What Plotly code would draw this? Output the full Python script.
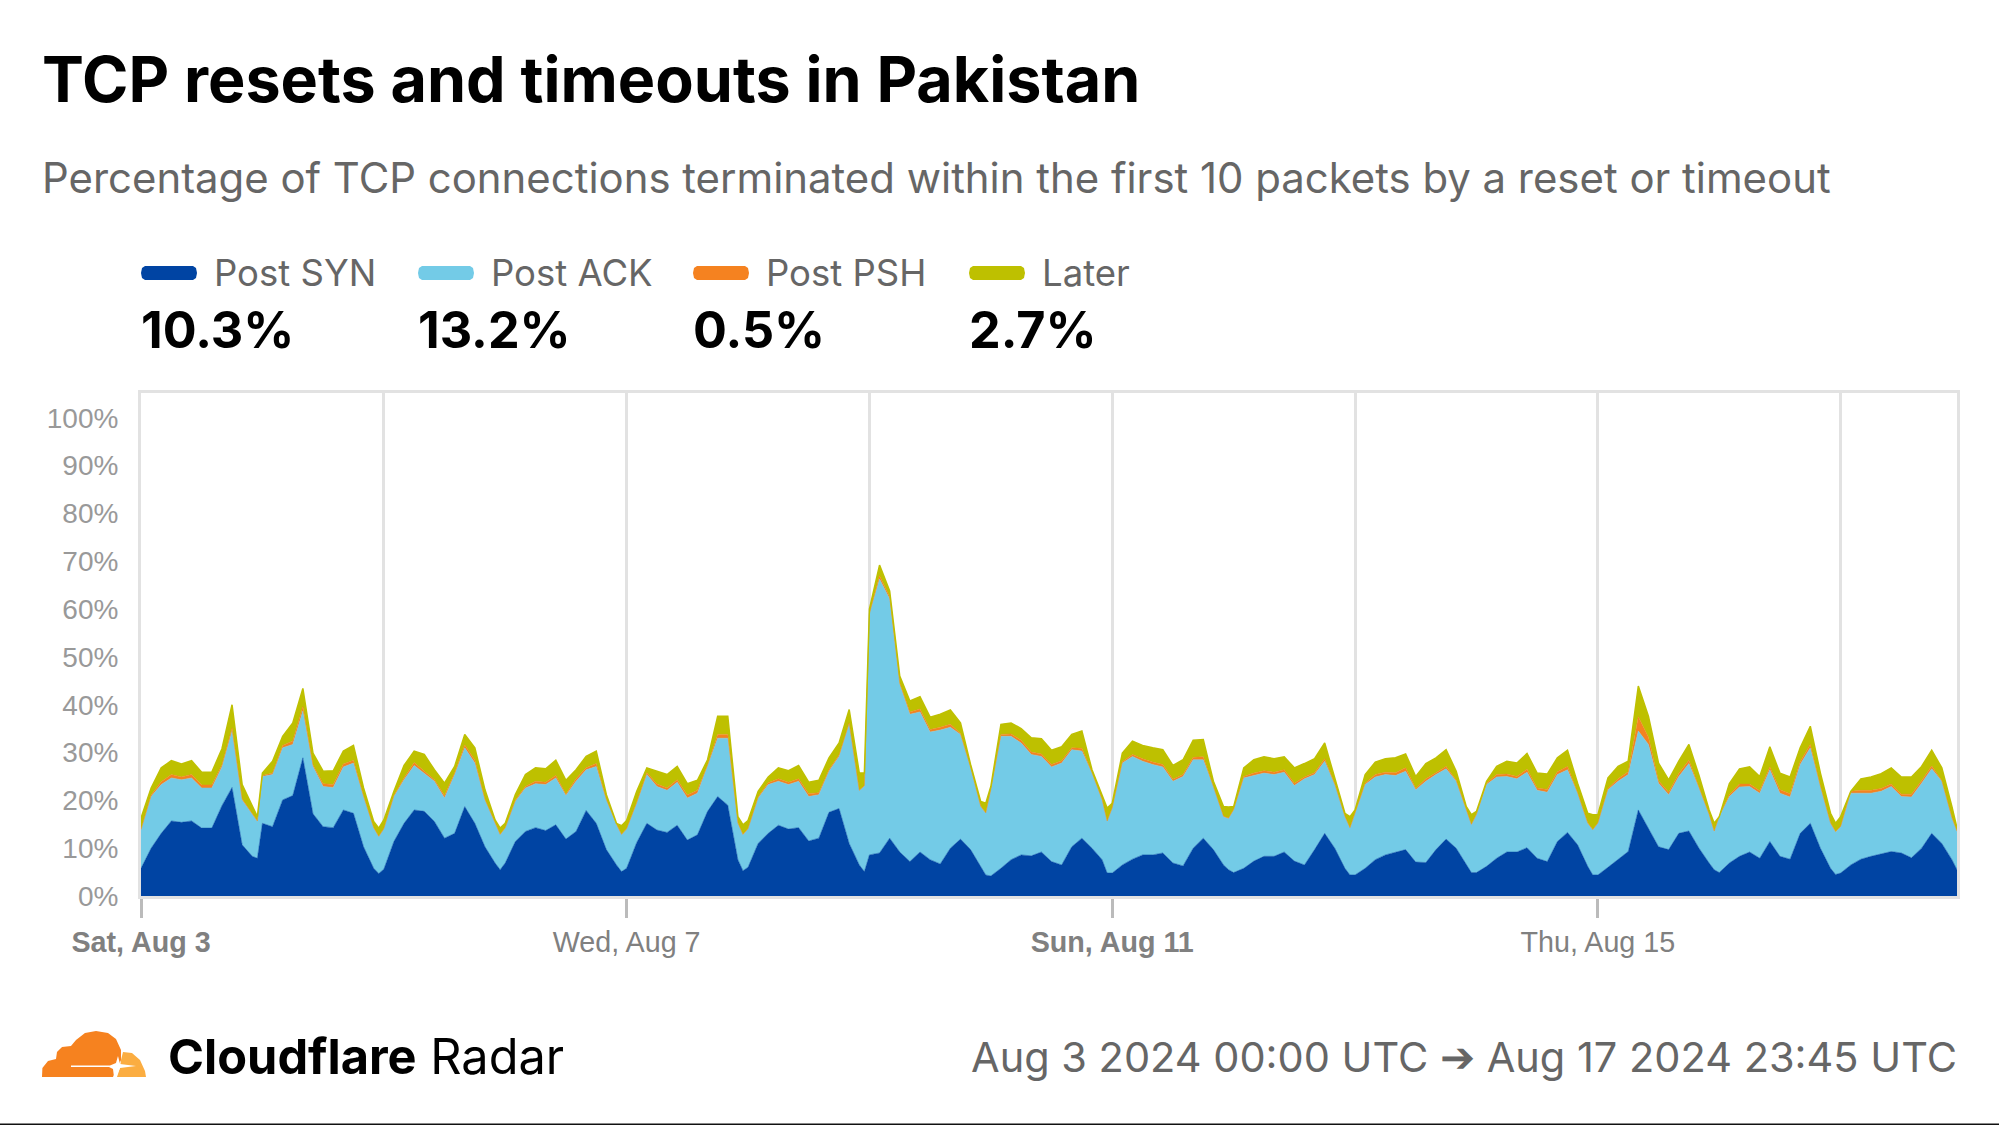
import plotly.graph_objects as go

W, H = 1999, 1125
LEFT, RIGHT, TOP, BOTTOM = 141, 1957, 393, 896

days = ["2024-08-%02d" % d for d in range(3, 18)]
day_hours = [0, 2, 4, 6, 8, 10, 12, 14, 16, 18, 20, 22, 23]

# one row per day, values in %
post_syn = [
    5.8, 10, 13.1, 15.7, 15.4, 15.7, 14.2, 14.2, 18.9, 22.7, 10.7, 8.3, 7.9,
    15.2, 14.5, 20.1, 21, 28.9, 17.2, 14.5, 14.3, 18, 17.3, 10.3, 5.8, 4.7,
    5.6, 11.4, 15.2, 18, 17.7, 15.6, 12.1, 13.1, 18.7, 15.2, 10.3, 6.9, 5.5,
    6.9, 11.4, 13.5, 14.3, 13.7, 14.9, 11.9, 13.5, 17.9, 15.2, 9.7, 6.5, 5.1,
    5.8, 11.2, 15.2, 13.8, 13.3, 14.8, 11.7, 12.8, 17.7, 20.8, 19, 7.6, 5.3,
    6, 11, 13.1, 14.8, 14, 14.3, 11.5, 12.1, 17.5, 18.3, 11, 6.5, 5.1,
    8.6, 9, 12.1, 9.2, 7.2, 9.2, 7.6, 6.7, 10, 11.9, 9.7, 6.2, 4.4,
    4.2, 5.8, 7.6, 8.6, 8.4, 9.2, 7.2, 6.5, 10.3, 12.1, 10, 7.6, 4.8,
    4.8, 6.5, 7.7, 8.6, 8.6, 9, 6.9, 6.3, 10, 12.1, 9.7, 6.5, 5.5,
    4.9, 5.8, 7.3, 8.3, 8.3, 9.2, 7.3, 6.5, 9.7, 13.1, 10, 5.8, 4.4,
    4.4, 5.8, 7.6, 8.6, 9.1, 9.7, 7.1, 7, 9.7, 11.9, 10, 6.5, 4.9,
    4.9, 6.2, 7.9, 9.2, 9.2, 10.1, 7.9, 7.2, 11.4, 13.3, 10.7, 6.2, 4.4,
    4.4, 6, 7.7, 9.3, 18, 14.2, 10.3, 9.7, 13.1, 13.6, 10, 6.9, 5.5,
    4.9, 6.9, 8.3, 9.2, 7.9, 11.4, 8.3, 7.7, 13.1, 15.2, 10, 5.8, 4.5,
    4.8, 6.5, 7.7, 8.3, 8.8, 9.3, 9, 8, 10, 13.1, 11, 7.6, 5.5,
]
# upper edge of the light blue band
ack_edge = [
    13.8, 20.8, 23.3, 24.7, 24.3, 24.7, 22.6, 22.6, 27, 34.5, 20.1, 17, 15.6,
    25, 25.4, 31, 31.7, 38.7, 27.1, 22.9, 22.7, 27, 27.8, 20.8, 14.2, 12.4,
    14, 20.8, 24.3, 27.3, 25.7, 24, 20.5, 25.4, 31, 27.8, 20.1, 15.2, 12.8,
    14.2, 19.8, 22.6, 23.5, 23.3, 24.7, 21, 24, 26.4, 27.1, 20.1, 14.9, 12.8,
    14, 19.4, 25.4, 22.9, 22.1, 23.8, 20.5, 21.5, 27.1, 33, 33, 15.2, 12.8,
    14, 20.5, 23.3, 24, 23.3, 24, 20.8, 21.2, 26.1, 29.2, 36, 22, 23,
    59, 66.3, 62.1, 44.3, 38, 38.5, 34.3, 34.7, 35.3, 33.8, 26.8, 18.7, 17.3,
    22.2, 33.4, 33.4, 32, 29.6, 29.2, 27, 27.8, 30.6, 30.3, 25.7, 20.1, 15.6,
    18.4, 27.8, 29.2, 28.2, 27.5, 27, 24, 25, 28.5, 28.5, 22.9, 16.6, 16.2,
    18, 24.7, 25.2, 25.7, 25.4, 25.9, 23.1, 24.5, 25.4, 28.2, 23.3, 16.6, 14.2,
    17.3, 23.3, 24.9, 25.4, 25.2, 26.1, 22.2, 24, 25.4, 26.6, 24, 18, 14.9,
    17, 23.3, 24.9, 25, 24.5, 25.9, 22.1, 21.7, 25.4, 26.4, 21.5, 15.2, 13.8,
    15.2, 22.2, 24, 25.4, 34.5, 31.7, 23.6, 21.2, 25, 27.7, 22.6, 17, 13.5,
    16.6, 20.8, 22.8, 22.9, 21.5, 26.4, 21.5, 20.7, 27.5, 31, 22.9, 15.2, 13.4,
    14.5, 21.5, 21.5, 21.5, 21.9, 22.9, 20.8, 20.7, 23.6, 26.6, 24, 16.3, 13.5,
]
post_psh = [
    .1, .3, .6, .7, .6, .7, .6, .6, .4, .6, .2, .1, .1,
    .2, .3, .5, .7, .9, .3, .6, .6, .6, .6, .1, .1, .1,
    .1, .2, .4, .6, .5, .3, .5, .3, .6, .6, .1, .1, .1,
    .1, .2, .3, .5, .5, .5, .3, .5, .4, .6, .1, .1, .1,
    .1, .2, .4, .5, .5, .5, .6, .6, .3, .8, .8, .1, .1,
    .1, .2, .4, .5, .5, .5, .6, .4, .3, .3, .2, .1, .1,
    .1, .7, .5, .2, .5, .6, .5, .6, .6, .2, .1, .1, .1,
    .1, .4, .5, .6, .5, .5, .5, .5, .4, .6, .1, .1, .1,
    .1, .3, .4, .5, .5, .5, .4, .4, .5, .6, .1, .1, .1,
    .1, .3, .5, .5, .5, .5, .5, .4, .4, .5, .1, .1, .1,
    .1, .3, .5, .5, .6, .7, .3, .5, .4, .5, .2, .1, .1,
    .1, .3, .5, .5, .5, .6, .5, .6, .6, .7, .1, .1, .1,
    .1, .3, .5, .6, 3, 1.5, .5, .5, .6, .7, .2, .1, .1,
    .1, .4, .6, .5, .5, .6, .7, .7, .6, .7, .1, .1, .1,
    .1, .4, .6, .6, .6, .5, .5, .6, .5, .6, .1, .1, .1,
]
# outer edge of the whole stack
top_edge = [
    16.3, 22.6, 26.8, 28.3, 27.6, 28.3, 25.9, 25.9, 30.8, 40, 23.3, 18.7, 16.6,
    25.7, 28.2, 33.4, 36.2, 43.4, 29.9, 26.1, 26.2, 30.3, 31.5, 22.6, 15.6, 14.2,
    15.9, 21.9, 27.3, 30.3, 29.6, 26.4, 23.6, 27.1, 33.8, 31, 22.2, 15.9, 14.2,
    15.2, 21.2, 25.4, 26.8, 26.6, 28.4, 24.2, 26.4, 29.2, 30.3, 21.2, 15.2, 14.7,
    15.8, 21.9, 26.8, 26.1, 25.4, 27.1, 23.5, 24.2, 28.5, 37.6, 37.6, 16.6, 14.9,
    15.8, 21.9, 24.9, 26.8, 26.2, 27.3, 23.8, 24.2, 28.9, 32, 39, 25.7, 25.7,
    60, 69.2, 63.8, 46, 40.8, 41.7, 37.4, 38, 38.9, 36.2, 27.5, 19.8, 19.4,
    22.9, 35.9, 36.2, 35, 33.1, 32.9, 30.5, 31.2, 33.8, 34.5, 26.4, 20.8, 18.4,
    19.4, 29.9, 32.4, 31.5, 31, 30.6, 27.3, 28.5, 32.6, 32.7, 24, 18.7, 18.6,
    18.7, 26.8, 28.5, 29.1, 28.7, 29.1, 26.8, 27.7, 28.7, 32, 24.7, 17.3, 16.6,
    18, 25.4, 28, 28.7, 28.9, 29.7, 25, 27.7, 28.9, 30.6, 26.1, 18.7, 17,
    17.7, 24, 27.1, 28.2, 27.8, 29.8, 25.7, 25.5, 28.9, 30.5, 23.6, 17.3, 17,
    17, 24.7, 27.1, 28.2, 43.9, 37.6, 27.8, 24.3, 28.2, 31.7, 25.2, 18, 15.2,
    16.6, 23.5, 26.6, 27, 25, 31.2, 25.7, 24.9, 31, 35.5, 25.7, 17.3, 15.2,
    16.6, 21.9, 24.5, 24.9, 25.6, 26.8, 24.9, 24.9, 27.1, 30.5, 26.8, 18.7, 14.2,
]
legend_names = ["Post SYN", "Post ACK", "Post PSH", "Later"]
legend_values = ["10.3%", "13.2%", "0.5%", "2.7%"]
colors = ["#0044A3", "#73CBE7", "#F58220", "#BEC000"]
y_ticks = [0, 10, 20, 30, 40, 50, 60, 70, 80, 90, 100]
x_tick_days = ["2024-08-03", "2024-08-07", "2024-08-11", "2024-08-15"]
x_tick_text = ["<b>Sat, Aug 3</b>", "Wed, Aug 7", "<b>Sun, Aug 11</b>", "Thu, Aug 15"]
grid_days = ["2024-08-05", "2024-08-09", "2024-08-13", "2024-08-17"]

x = ["%s %02d:00" % (d, h) for d in days for h in day_hours]

post_ack = [a - s for a, s in zip(ack_edge, post_syn)]
later = [t - a - p for t, a, p in zip(top_edge, ack_edge, post_psh)]
series = [post_syn, post_ack, post_psh, later]
widths = [0.5, 0.5, 0.5, 1.5]


def px(v):
    return (v - LEFT) / (RIGHT - LEFT)


def py(v):
    return (BOTTOM - v) / (BOTTOM - TOP)


def path(points):
    return "M" + " L".join("%.5f,%.5f" % (px(a), py(b)) for a, b in points) + " Z"


fig = go.Figure()
for name, vals, col, lw in zip(legend_names, series, colors, widths):
    fig.add_trace(go.Scatter(x=x, y=vals, name=name, mode="lines", stackgroup="one",
                             fillcolor=col, line=dict(color=col, width=lw),
                             hoverinfo="skip", showlegend=False))

notes = []


def text(s, xp, yp, size, color, family="Inter", weight=400, anchor="left"):
    notes.append(dict(text=s, x=px(xp), y=py(yp), xref="paper", yref="paper", showarrow=False,
                      xanchor=anchor, yanchor="middle",
                      font=dict(size=size, color=color, family=family, weight=weight)))


text("TCP resets and timeouts in Pakistan", 39.5, 79, 62.8, "#000000", weight=700)
text("Percentage of TCP connections terminated within the first 10 packets by a reset or timeout",
     39.5, 177, 41.9, "#666666")
text("Aug 3 2024 00:00 UTC ➔ Aug 17 2024 23:45 UTC", 1959, 1057, 41.5, "#666666", anchor="right")
text("<b>Cloudflare</b> Radar", 166, 1056, 48.7, "#000000")

shapes = []
swatch_x = [142, 419, 694, 970]
for name, val, col, sx in zip(legend_names, legend_values, colors, swatch_x):
    left, right, top, bot = sx - 1, sx + 55, 266, 280
    shapes.append(dict(type="path", xref="paper", yref="paper", fillcolor=col, line_width=0, layer="above",
                       path=path([(left + 4, top), (right - 4, top), (right - 1, top + 2), (right, top + 7),
                                  (right - 1, bot - 2), (right - 4, bot), (left + 4, bot), (left + 1, bot - 2),
                                  (left, top + 7), (left + 1, top + 2)])))
    text(name, sx + 69.5, 273, 36.5, "#666666")
    text(val, sx - 3.5, 329, 50.3, "#000000", weight=700)

# logo
cloud = [(42, 1077), (42.4, 1068), (48, 1061), (56, 1059), (57, 1052), (62, 1047), (71, 1046), (76, 1040),
         (85, 1033), (96, 1031), (108, 1033), (116, 1039), (121, 1050), (121, 1060), (113, 1077)]
lobe = [(123, 1052), (132, 1053), (140, 1060), (145, 1071), (146, 1077), (116, 1077), (120, 1068), (121, 1060)]
slit = [(71, 1065.5), (110, 1065.5), (116, 1063), (118, 1056), (120, 1064), (136, 1066), (120, 1068), (117, 1077),
        (114, 1077), (113, 1069), (109, 1067), (71, 1067)]
for pts, col in [(cloud, "#F6821F"), (lobe, "#FBAD41"), (slit, "#FFFFFF")]:
    shapes.append(dict(type="path", xref="paper", yref="paper", fillcolor=col, line_width=0, layer="above",
                       path=path(pts)))
shapes.append(dict(type="rect", xref="paper", yref="paper", x0=px(0), x1=px(W), y0=py(1125), y1=py(1123.5),
                   fillcolor="#111111", line_width=0))

fig.update_layout(
    width=W, height=H, margin=dict(l=LEFT, r=W - RIGHT, t=TOP, b=H - BOTTOM),
    paper_bgcolor="white", plot_bgcolor="white", showlegend=False,
    annotations=notes, shapes=shapes,
    xaxis=dict(type="date", range=["2024-08-03 00:00", "2024-08-17 23:00"],
               tickmode="array", tickvals=x_tick_days, ticktext=x_tick_text,
               ticks="outside", ticklen=19, tickwidth=3, tickcolor="#BBBBBB",
               showgrid=True, gridcolor="#E2E2E2", gridwidth=3,
               minor=dict(tickvals=grid_days, showgrid=True, gridcolor="#E2E2E2", gridwidth=3, ticks=""),
               showline=True, linecolor="#E2E2E2", linewidth=3, mirror=True,
               tickfont=dict(family="Liberation Sans", size=28.7, color="#808080"), zeroline=False),
    yaxis=dict(range=[0, 105.2], tickmode="array", tickvals=y_ticks, ticktext=["%d%%" % v for v in y_ticks],
               showgrid=False, zeroline=False, showline=True, linecolor="#E2E2E2", linewidth=3, mirror=True,
               ticks="", ticklabelstandoff=14,
               tickfont=dict(family="Liberation Sans", size=28, color="#999999")),
)

fig.write_html("out.html", config=dict(displayModeBar=False), post_script="document.body.style.margin='0';")
